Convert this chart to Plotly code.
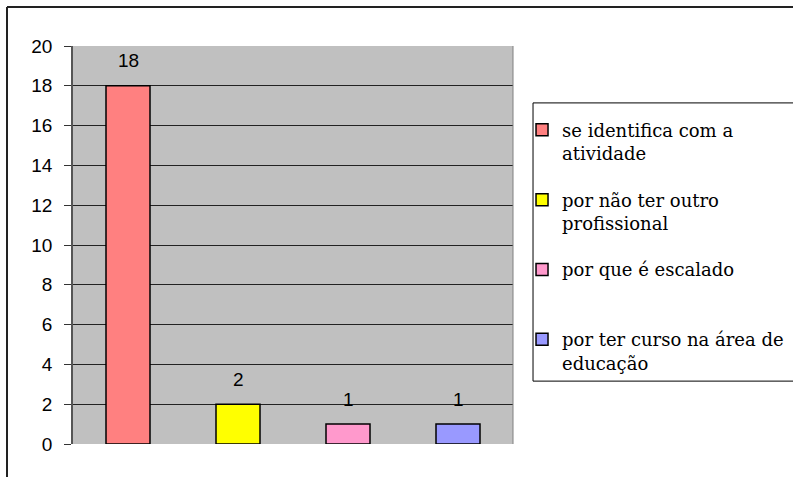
import plotly.graph_objects as go

# Reasons given, counts and bar colours
categories = [
    "se identifica com a<br>atividade",
    "por não ter outro<br>profissional",
    "por que é escalado<br> ",
    "por ter curso na área de<br>educação",
]
values = [18, 2, 1, 1]
colors = ["#FF8080", "#FFFF00", "#FF99CC", "#9999FF"]
y_ticks = [0, 2, 4, 6, 8, 10, 12, 14, 16, 18, 20]

SERIF = "DejaVu Serif"
SANS = "Liberation Sans"

fig = go.Figure()
for i, (name, val, col) in enumerate(zip(categories, values, colors)):
    fig.add_trace(go.Bar(
        x=[i], y=[val], name=name, width=0.4, legendgroup=f"g{i}",
        marker=dict(color=col, line=dict(color="black", width=1.5)),
    ))
    # value label above each bar
    fig.add_annotation(
        x=i, y=val, text=str(val), showarrow=False, yshift=25,
        font=dict(family=SANS, size=19, color="black"),
    )

fig.update_layout(
    width=793, height=477,
    margin=dict(l=73, r=280, t=46, b=33, autoexpand=False),
    paper_bgcolor="white",
    plot_bgcolor="#C0C0C0",
    barmode="overlay",
    showlegend=True,
    legend=dict(
        x=1.0205, y=0.835, xanchor="left", yanchor="top",
        bgcolor="rgba(0,0,0,0)", borderwidth=0,
        font=dict(family=SERIF, size=18, color="black"),
        valign="top", tracegroupgap=20, traceorder="grouped",
    ),
    xaxis=dict(
        range=[-0.5, 3.5], showticklabels=False, showgrid=False,
        zeroline=False, ticks="", showline=False,
    ),
    yaxis=dict(
        range=[0, 20], tickvals=y_ticks, ticks="outside", ticklen=7,
        tickcolor="#333333", showline=True, linecolor="#555555", linewidth=1.5,
        gridcolor="#222222", gridwidth=1, zeroline=False, ticklabelstandoff=8,
        tickfont=dict(family=SANS, size=19, color="black"),
    ),
    shapes=[
        # chart frame: left and top edges
        dict(type="line", xref="paper", yref="paper",
             x0=-0.15, x1=-0.15, y0=-0.09, y1=1.098,
             line=dict(color="#222222", width=2)),
        dict(type="line", xref="paper", yref="paper",
             x0=-0.15, x1=1.7, y0=1.098, y1=1.098,
             line=dict(color="#222222", width=2)),
        # plot area right edge
        dict(type="line", xref="paper", yref="paper",
             x0=1, x1=1, y0=0, y1=1,
             line=dict(color="#808080", width=1)),
        # legend box
        dict(type="rect", xref="paper", yref="paper",
             x0=1.0455, x1=1.7, y0=0.158, y1=0.857,
             line=dict(color="black", width=1), layer="below"),
    ],
)

fig.write_html("out.html")
